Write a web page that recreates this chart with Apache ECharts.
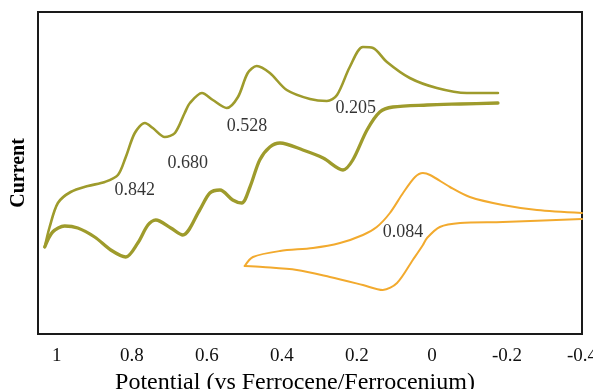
<!DOCTYPE html>
<html>
<head>
<meta charset="utf-8">
<script src="https://cdn.jsdelivr.net/npm/echarts@6/dist/echarts.min.js"></script>
<style>html,body{margin:0;padding:0;background:#fff}#c{width:593px;height:389px}</style>
</head>
<body>
<div id="c"></div>
<script>
// Potential (V vs Fc/Fc+), current in arbitrary units
const oliveUpper = [
  [1.032,87],[1.019,107],[0.997,131],[0.963,142],[0.917,148],[0.872,152],[0.837,159],
  [0.816,177],[0.792,201],[0.765,211],[0.744,206],[0.712,197],[0.685,201],[0.659,221],
  [0.645,231],[0.613,241],[0.584,234],[0.547,226],[0.517,237],[0.491,261],[0.467,268],
  [0.432,261],[0.387,244],[0.325,235],[0.280,233],[0.253,239],[0.219,267],[0.184,287],
  [0.157,286],[0.120,272],[0.059,256],[-0.013,246],[-0.093,241],[-0.176,241]
];
const oliveLower = [
  [1.032,87],[1.011,102],[0.979,108],[0.944,106],[0.899,97],[0.856,84],[0.816,77],
  [0.784,91],[0.757,109],[0.736,114],[0.696,106],[0.664,99],[0.619,124],[0.592,141],
  [0.565,144],[0.531,134],[0.507,131],[0.485,147],[0.459,174],[0.432,187],[0.405,191],
  [0.344,184],[0.290,176],[0.237,164],[0.211,174],[0.173,204],[0.139,222],
  [0.104,227],[0.013,229],[-0.075,230],[-0.176,231]
];
const orangeUpper = [
  [0.499,68],[0.477,77],[0.405,83],[0.317,86],[0.245,91],[0.184,99],[0.147,107],
  [0.112,121],[0.077,141],[0.045,157],[0.024,161],[0.005,159],[-0.048,147],[-0.101,137],
  [-0.189,129],[-0.280,124],[-0.4,121]
];
const orangeLower = [
  [0.499,68],[0.451,67],[0.360,64],[0.272,57],[0.184,49],[0.131,44],[0.093,51],
  [0.051,74],[0.024,89],[0.013,96],[-0.021,107],[-0.075,111],[-0.189,112],[-0.4,115]
];
const peakLabels = ['0.842','0.680','0.528','0.205','0.084'];
const peakLabelPos = [[0.792,144],[0.651,171],[0.493,208],[0.203,226],[0.077,102]];
const xTitle = 'Potential (vs Ferrocene/Ferrocenium)';
const yTitle = 'Current';

const serif = '"Liberation Serif","DejaVu Serif",serif';
const OLIVE = '#9e9b2c';
const ORANGE = '#f2aa2e';

function lineSeries(data, color, width){
  return {type:'line', data:data, smooth:0.3, showSymbol:false, symbol:'none',
    lineStyle:{color:color, width:width, join:'round', cap:'round'}, silent:true, animation:false, z:2};
}

const chart = echarts.init(document.getElementById('c'), null, {renderer:'canvas'});
chart.setOption({
  animation:false,
  backgroundColor:'#fff',
  grid:{left:38, right:11, top:12, bottom:55, show:true, borderColor:'#1a1a1a', borderWidth:2,
    backgroundColor:'transparent', containLabel:false, outerBoundsMode:'none'},
  xAxis:{type:'value', inverse:true, min:-0.4, max:1.05, interval:0.2,
    axisLine:{show:false}, axisTick:{show:false}, splitLine:{show:false},
    axisLabel:{color:'#111', fontFamily:serif, fontSize:19, margin:13, showMaxLabel:false,
      formatter:function(v){ return v > 1.02 ? '' : String(Math.round(v*10)/10); }},
    name:xTitle, nameLocation:'middle', nameGap:35,
    nameTextStyle:{color:'#000', fontFamily:serif, fontSize:24, padding:[0,30,0,0]}
  },
  yAxis:{type:'value', min:0, max:322,
    axisLine:{show:false}, axisTick:{show:false}, splitLine:{show:false}, axisLabel:{show:false},
    name:yTitle, nameLocation:'middle', nameGap:9, nameRotate:90,
    nameTextStyle:{color:'#000', fontFamily:serif, fontSize:20, fontWeight:'bold'}
  },
  series:[
    lineSeries(oliveUpper, OLIVE, 2.6),
    lineSeries(oliveLower, OLIVE, 3.3),
    lineSeries(orangeUpper, ORANGE, 2),
    lineSeries(orangeLower, ORANGE, 2),
    {type:'scatter', symbolSize:0, silent:true, z:5,
      data:peakLabelPos.map(function(p,i){ return {value:p, name:peakLabels[i]}; }),
      label:{show:true, position:'inside', formatter:'{b}', color:'#000', fontFamily:serif, fontSize:18}
    }
  ]
});
</script>
</body>
</html>
